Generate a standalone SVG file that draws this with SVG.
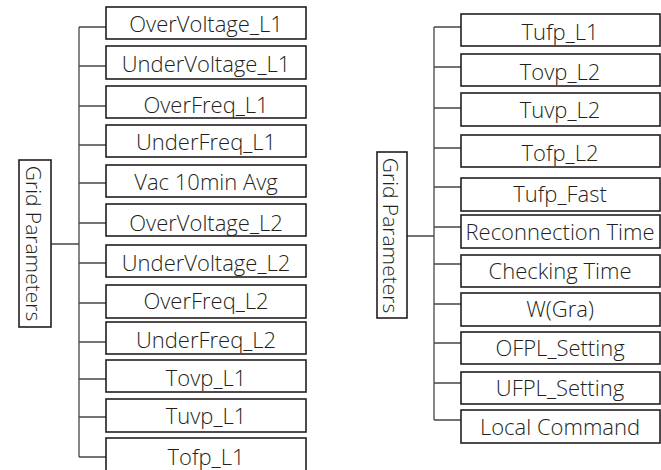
<svg xmlns="http://www.w3.org/2000/svg" width="661" height="470" viewBox="0 0 661 470">
<style>
.box{fill:#fff;stroke:#231f20;stroke-width:1.6}
.t{font-family:"Open Sans","Noto Sans","Liberation Sans",sans-serif;font-weight:300;font-size:22px;fill:#231f20;text-anchor:middle;dominant-baseline:central}
.r{font-size:21px}
.c{stroke:#4a4444;stroke-width:1.3;fill:none}
</style>
<rect width="661" height="470" fill="#fff"/>
<g id="connectors">
<path class="c" d="M79 27V457M51 244H79M79 27H106M79 66H106M79 106H106M79 145H106M79 183H106M79 223H106M79 263H106M79 303H106M79 342H106M79 379H106M79 417H106M79 457H106"/>
<path class="c" d="M434 27V420M407 236H434M434 27H461M434 67H461M434 108H461M434 148H461M434 187H461M434 227H461M434 264H461M434 304H461M434 343H461M434 383H461M434 420H461"/>
</g>
<g id="root-left"><rect class="box" x="19" y="160" width="32" height="167"/><text class="t r" transform="translate(34 243.5) rotate(90)">Grid Parameters</text></g>
<g id="root-right"><rect class="box" x="377" y="152" width="30" height="166"/><text class="t r" transform="translate(391 235.5) rotate(90)">Grid Parameters</text></g>
<g id="l1"><rect class="box" x="106" y="7" width="200" height="32"/><text class="t" x="206" y="23">OverVoltage_L1</text></g>
<g id="l2"><rect class="box" x="106" y="46" width="200" height="33"/><text class="t" x="206" y="62.5">UnderVoltage_L1</text></g>
<g id="l3"><rect class="box" x="106" y="86" width="200" height="32"/><text class="t" x="206" y="104">OverFreq_L1</text></g>
<g id="l4"><rect class="box" x="106" y="125" width="200" height="32"/><text class="t" x="206" y="141">UnderFreq_L1</text></g>
<g id="l5"><rect class="box" x="106" y="165" width="200" height="32"/><text class="t" x="206" y="181">Vac 10min Avg</text></g>
<g id="l6"><rect class="box" x="106" y="204" width="200" height="32"/><text class="t" x="206" y="222">OverVoltage_L2</text></g>
<g id="l7"><rect class="box" x="106" y="245" width="200" height="32"/><text class="t" x="206" y="262">UnderVoltage_L2</text></g>
<g id="l8"><rect class="box" x="106" y="285" width="200" height="33"/><text class="t" x="206" y="300">OverFreq_L2</text></g>
<g id="l9"><rect class="box" x="106" y="322" width="200" height="32"/><text class="t" x="206" y="339">UnderFreq_L2</text></g>
<g id="l10"><rect class="box" x="106" y="360" width="200" height="32"/><text class="t" x="206" y="377">Tovp_L1</text></g>
<g id="l11"><rect class="box" x="106" y="399" width="200" height="33"/><text class="t" x="206" y="415">Tuvp_L1</text></g>
<g id="l12"><rect class="box" x="106" y="438" width="200" height="34"/><text class="t" x="206" y="456">Tofp_L1</text></g>
<g id="r1"><rect class="box" x="461" y="14" width="199" height="32"/><text class="t" x="560" y="31">Tufp_L1</text></g>
<g id="r2"><rect class="box" x="461" y="54" width="199" height="32"/><text class="t" x="560" y="71">Tovp_L2</text></g>
<g id="r3"><rect class="box" x="461" y="93" width="199" height="33"/><text class="t" x="560" y="109">Tuvp_L2</text></g>
<g id="r4"><rect class="box" x="461" y="135" width="199" height="32"/><text class="t" x="560" y="152">Tofp_L2</text></g>
<g id="r5"><rect class="box" x="461" y="178" width="199" height="33"/><text class="t" x="560" y="193">Tufp_Fast</text></g>
<g id="r6"><rect class="box" x="461" y="215" width="199" height="33"/><text class="t" x="560" y="231">Reconnection Time</text></g>
<g id="r7"><rect class="box" x="461" y="255" width="199" height="32"/><text class="t" x="560" y="270">Checking Time</text></g>
<g id="r8"><rect class="box" x="461" y="293" width="199" height="33"/><text class="t" x="560" y="308">W(Gra)</text></g>
<g id="r9"><rect class="box" x="461" y="332" width="199" height="32"/><text class="t" x="560" y="347">OFPL_Setting</text></g>
<g id="r10"><rect class="box" x="461" y="372" width="199" height="32"/><text class="t" x="560" y="387">UFPL_Setting</text></g>
<g id="r11"><rect class="box" x="461" y="410" width="199" height="33"/><text class="t" x="560" y="426">Local Command</text></g>
</svg>
